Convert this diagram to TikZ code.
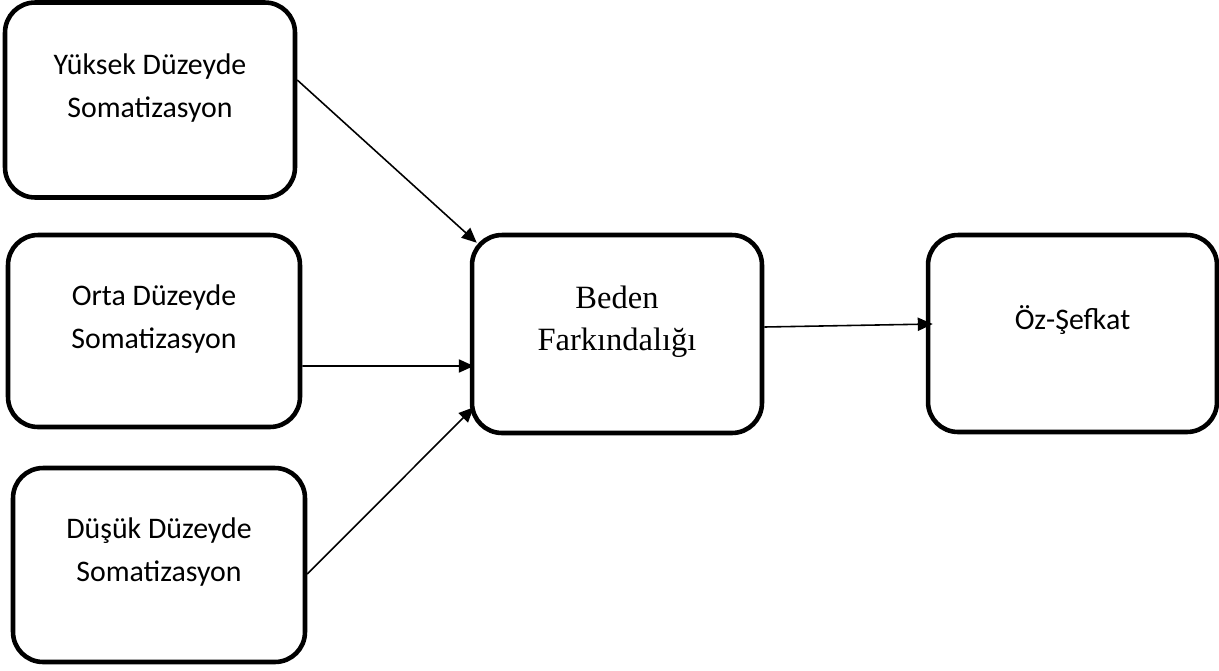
\documentclass[tikz,border=0pt]{standalone}
\usepackage{fontspec}
\setmainfont{Liberation Serif}
\newfontfamily\calibri{Carlito}
\usetikzlibrary{arrows.meta}

\begin{document}
\begin{tikzpicture}[x=0.02cm, y=-0.02cm,
    blok/.style={draw, rectangle, rounded corners=0.6cm, line width=2.6pt, minimum width=5.8cm, minimum height=3.9cm},
    yazi/.style={align=center, font=\calibri\fontsize{17}{24.5}\selectfont},
    ok/.style={-{Triangle[length=8.5pt, width=7.5pt]}, line width=0.9pt}]
    \useasboundingbox (0, 0) rectangle (1219, 670);

    \node (yuksek) at (150, 100) [blok, minimum height=3.9cm] {};
    \node (yuksek_t) at ([yshift=0.24cm]yuksek.center) [yazi] {Yüksek Düzeyde \\ Somatizasyon};

    \node (orta) at (154, 331) [blok, minimum width=5.84cm, minimum height=3.84cm] {};
    \node (orta_t) at ([yshift=0.24cm]orta.center) [yazi] {Orta Düzeyde \\ Somatizasyon};

    \node (dusuk) at (159, 565) [blok, minimum width=5.84cm, minimum height=3.88cm] {};
    \node (dusuk_t) at ([yshift=0.26cm]dusuk.center) [yazi] {Düşük Düzeyde \\ Somatizasyon};

    \node (beden) at (617, 334) [blok, minimum height=3.96cm] {};
    \node (beden_t) at ([yshift=0.24cm]beden.center) [align=center, font=\fontsize{18.5}{24}\selectfont] {Beden \\ Farkındalığı};

    \node (sefkat) at (1072.5, 333.5) [blok, minimum width=5.78cm, minimum height=3.94cm] {};
    \node (sefkat_t) at ([yshift=0.26cm]sefkat.center) [yazi] {Öz-Şefkat};

    \draw [ok] ([yshift=0.4cm]yuksek.east) -- ([xshift=0.14cm, yshift=-0.2cm]beden.north west);
    \draw [ok] ([yshift=-0.7cm]orta.east) -- ([xshift=0.08cm, yshift=-0.64cm]beden.west);
    \draw [ok] ([yshift=-0.18cm]dusuk.east) -- ([xshift=0.08cm, yshift=0.56cm]beden.south west);
    \draw [ok] ([yshift=0.14cm]beden.east) -- ([xshift=0.14cm, yshift=0.19cm]sefkat.west);
\end{tikzpicture}
\end{document}
